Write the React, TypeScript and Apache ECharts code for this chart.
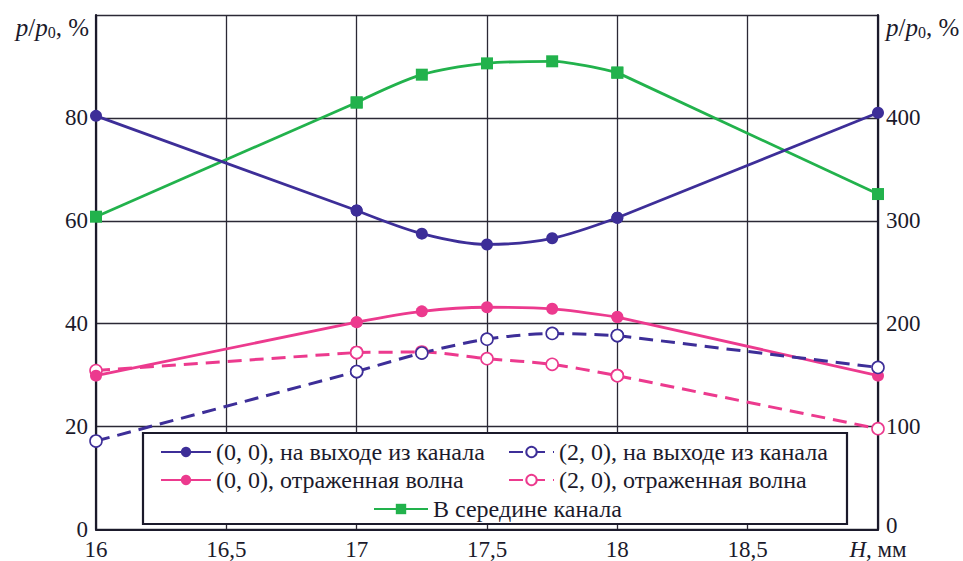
import React, { useEffect, useRef } from "react";
import * as echarts from "echarts";

// Channel height H, mm
const xH = [16, 17, 17.25, 17.5, 17.75, 18, 19];

// Left axis, p/p0 %
const exit00 = [80.4, 62.0, 57.5, 55.4, 56.6, 60.6, 81.0];
const refl00 = [29.9, 40.3, 42.4, 43.2, 42.9, 41.3, 29.9];
const exit20 = [17.2, 30.7, 34.3, 37.0, 38.1, 37.7, 31.5];
const refl20 = [30.9, 34.4, 34.5, 33.2, 32.1, 29.9, 19.6];
// Right axis, p/p0 %
const middle = [304, 415, 442, 453, 455, 444, 326];

const leftTicks = [0, 20, 40, 60, 80];
const rightTicks = [0, 100, 200, 300, 400];

const names = {
  exit00: "(0, 0), на выходе из канала",
  refl00: "(0, 0), отраженная волна",
  exit20: "(2, 0), на выходе из канала",
  refl20: "(2, 0), отраженная волна",
  middle: "В середине канала",
};

const BLUE = "#3d2e98";
const PINK = "#ec3a8e";
const GREEN = "#22b24c";
const INK = "#1b1a2b";
const FONT = "Liberation Serif";
const TICK_SIZE = 23;
const LEGEND_SIZE = 24;

const pair = (ys: number[]) => xH.map((x, i) => [x, ys[i]]);

// Pieces of each curve: straight outer spans, smooth inner span
const pieces: [number, number, number][] = [
  [0, 2, 0],
  [1, 6, 0.3],
  [5, 7, 0],
];

export default function App() {
  const ref = useRef<HTMLDivElement>(null);

  useEffect(() => {
    if (!ref.current) return;
    const chart = echarts.init(ref.current, null, { renderer: "svg" });

    const lineSeries = (
      name: string,
      ys: number[],
      color: string,
      dashed: boolean,
      filled: boolean,
      yAxisIndex = 0,
      symbol = "circle"
    ) =>
      pieces.map(([from, to, smooth]) => ({
        type: "line",
        name,
        data: pair(ys).slice(from, to),
        yAxisIndex,
        smooth,
        symbol,
        symbolSize: 12,
        showSymbol: true,
        lineStyle: {
          color,
          width: dashed ? 3 : 2.8,
          type: dashed ? [14, 8] : "solid",
        },
        itemStyle: {
          color: filled ? color : "#ffffff",
          borderColor: color,
          borderWidth: filled ? 0 : 1.6,
        },
        z: 2,
      }));

    const titleRich = {
      i: { fontFamily: FONT, fontStyle: "italic", fontSize: 25, fill: INK },
      n: { fontFamily: FONT, fontSize: 25, fill: INK },
      s: { fontFamily: FONT, fontSize: 16, fill: INK, verticalAlign: "bottom", padding: [11, 0, 0, 0] },
    };

    const legendText = { fontFamily: FONT, fontSize: LEGEND_SIZE, color: INK, lineHeight: 22 };

    chart.setOption({
      animation: false,
      backgroundColor: "#ffffff",
      grid: { left: 96, right: 85, top: 15, bottom: 29, containLabel: false },
      xAxis: {
        type: "value",
        min: 16,
        max: 19,
        interval: 0.5,
        axisLine: { show: true, onZero: false, lineStyle: { color: INK, width: 2.2 } },
        axisTick: { show: false },
        splitLine: { show: true, lineStyle: { color: "#2b2935", width: 1.3 } },
        axisLabel: {
          margin: 11,
          fontFamily: FONT,
          fontSize: TICK_SIZE,
          lineHeight: 18,
          color: INK,
          formatter: (v: number) =>
            v === 19 ? "{i|H}, мм" : String(v).replace(".", ","),
          rich: {
            i: { fontFamily: FONT, fontStyle: "italic", fontSize: TICK_SIZE, lineHeight: 18, color: INK },
          },
        },
      },
      yAxis: [
        {
          type: "value",
          min: 0,
          max: 100,
          interval: 20,
          position: "left",
          axisLine: { show: true, lineStyle: { color: INK, width: 2.2 } },
          axisTick: { show: false },
          splitLine: { show: true, lineStyle: { color: "#2b2935", width: 1.3 } },
          axisLabel: {
            margin: 8,
            fontFamily: FONT,
            fontSize: TICK_SIZE,
            color: INK,
            formatter: (v: number) => (leftTicks.includes(v) ? String(v) : ""),
          },
        },
        {
          type: "value",
          min: 0,
          max: 500,
          interval: 100,
          position: "right",
          axisLine: { show: true, lineStyle: { color: INK, width: 2.2 } },
          axisTick: { show: false },
          splitLine: { show: false },
          axisLabel: {
            margin: 8,
            fontFamily: FONT,
            fontSize: TICK_SIZE,
            lineHeight: 18,
            color: INK,
            formatter: (v: number) =>
              v === 0 ? "{z|0}" : rightTicks.includes(v) ? String(v) : "",
            rich: {
              z: { fontFamily: FONT, fontSize: TICK_SIZE, lineHeight: 16, color: INK, padding: [0, 0, 9, 0] },
            },
          },
        },
      ],
      legend: [
        {
          data: [names.exit00, names.refl00],
          orient: "vertical",
          left: 155,
          top: 435,
          itemWidth: 50,
          itemHeight: 13,
          itemGap: 4,
          selectedMode: false,
          z: 6,
          textStyle: legendText,
        },
        {
          data: [names.exit20, names.refl20],
          orient: "vertical",
          left: 503,
          top: 435,
          itemWidth: 45,
          itemHeight: 13,
          itemGap: 4,
          selectedMode: false,
          z: 6,
          textStyle: legendText,
        },
        {
          data: [names.middle],
          left: 368,
          top: 492,
          itemWidth: 54,
          itemHeight: 13,
          selectedMode: false,
          z: 6,
          textStyle: legendText,
        },
      ],
      graphic: [
        {
          type: "rect",
          z: 5,
          shape: { x: 143, y: 433, width: 704, height: 91 },
          style: { fill: "#ffffff", stroke: INK, lineWidth: 2.2 },
        },
        {
          type: "text",
          z: 6,
          x: 89,
          y: 27,
          style: {
            text: "{i|p}{n|/}{i|p}{s|0}{n|, %}",
            rich: titleRich,
            align: "right",
            verticalAlign: "middle",
          },
        },
        {
          type: "text",
          z: 6,
          x: 886,
          y: 27,
          style: {
            text: "{i|p}{n|/}{i|p}{s|0}{n|, %}",
            rich: titleRich,
            align: "left",
            verticalAlign: "middle",
          },
        },
      ],
      series: [
        ...lineSeries(names.middle, middle, GREEN, false, true, 1, "rect"),
        ...lineSeries(names.refl20, refl20, PINK, true, false),
        ...lineSeries(names.refl00, refl00, PINK, false, true),
        ...lineSeries(names.exit20, exit20, BLUE, true, false),
        ...lineSeries(names.exit00, exit00, BLUE, false, true),
      ],
    });

    return () => chart.dispose();
  }, []);

  return <div ref={ref} style={{ width: 963, height: 561, position: "absolute", left: 0, top: 0 }} />;
}
